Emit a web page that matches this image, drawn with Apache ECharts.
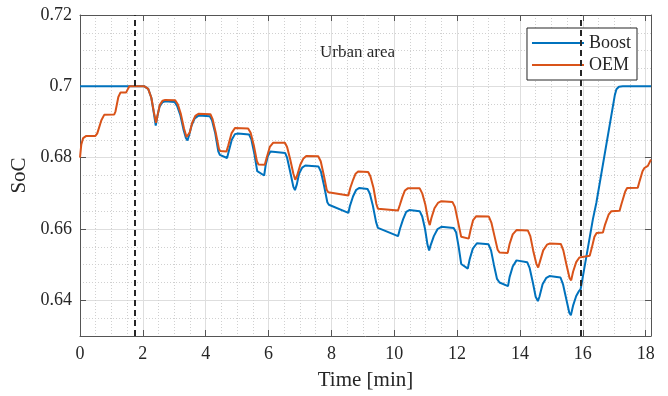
<!DOCTYPE html>
<html>
<head>
<meta charset="utf-8">
<script src="https://cdn.jsdelivr.net/npm/echarts@6/dist/echarts.min.js"></script>
<style>
  html, body { margin: 0; padding: 0; background: #fff; }
  #chart { width: 668px; height: 396px; }
</style>
</head>
<body>
<div id="chart"></div>
<script>
// Boost SoC trace (time in min)
const boostTime = [0, 2.05, 2.17, 2.27, 2.35, 2.41, 2.46, 2.53, 2.62, 2.71, 3.01, 3.09, 3.19, 3.29, 3.37, 3.42, 3.47, 3.55, 3.65, 3.77,
  4.13, 4.20, 4.30, 4.40, 4.45, 4.68, 4.74, 4.83, 4.93, 5.03, 5.38, 5.45, 5.55, 5.64, 5.68, 5.86, 5.91, 5.98, 6.06,
  6.53, 6.59, 6.69, 6.79, 6.84, 6.90, 6.97, 7.07, 7.17, 7.59, 7.67, 7.77, 7.87, 7.92, 8.54, 8.59, 8.69, 8.79, 8.89,
  9.15, 9.22, 9.32, 9.42, 9.48, 10.12, 10.18, 10.28, 10.38, 10.48, 10.81, 10.89, 10.98, 11.06, 11.11, 11.16, 11.26, 11.38, 11.50,
  11.89, 11.97, 12.05, 12.13, 12.34, 12.40, 12.50, 12.63, 13.00, 13.08, 13.17, 13.27, 13.35, 13.62, 13.67, 13.77, 13.89,
  14.23, 14.31, 14.41, 14.50, 14.57, 14.62, 14.72, 14.84, 14.94, 15.29, 15.37, 15.47, 15.57, 15.62, 15.69, 15.79, 15.87, 15.93,
  16.06, 16.32, 16.43, 17.02, 17.07, 17.15, 17.27, 18.17];
const boostSoc = [0.7, 0.7, 0.6993, 0.6968, 0.6925, 0.6890, 0.6915, 0.6943, 0.6955, 0.6958, 0.6956, 0.6945, 0.6920, 0.6880, 0.6855, 0.6848, 0.6862, 0.6890, 0.6910, 0.6918,
  0.6916, 0.6905, 0.6870, 0.6818, 0.6808, 0.6799, 0.6820, 0.6850, 0.6866, 0.6868, 0.6865, 0.6852, 0.6810, 0.6762, 0.6757, 0.6750, 0.6780, 0.6805, 0.6817,
  0.6813, 0.6800, 0.6760, 0.6718, 0.6709, 0.6725, 0.6755, 0.6772, 0.6778, 0.6775, 0.6760, 0.6720, 0.6675, 0.6668, 0.6645, 0.6665, 0.6692, 0.6710, 0.6715,
  0.6712, 0.6700, 0.6665, 0.6620, 0.6603, 0.6580, 0.6600, 0.6627, 0.6648, 0.6653, 0.6650, 0.6635, 0.6600, 0.6555, 0.6540, 0.6555, 0.6580, 0.6600, 0.6606,
  0.6603, 0.6590, 0.6550, 0.6502, 0.6489, 0.6515, 0.6545, 0.6560, 0.6557, 0.6540, 0.6500, 0.6460, 0.6450, 0.6440, 0.6465, 0.6495, 0.6512,
  0.6507, 0.6490, 0.6450, 0.6410, 0.6398, 0.6410, 0.6445, 0.6463, 0.6468, 0.6464, 0.6445, 0.6405, 0.6365, 0.6358, 0.6385, 0.6412, 0.6425, 0.6431,
  0.6496, 0.6627, 0.6673, 0.6976, 0.6992, 0.6999, 0.7, 0.7];

// OEM SoC trace
const oemTime = [0, 0.04, 0.10, 0.20, 0.49, 0.55, 0.68, 0.77, 1.09, 1.13, 1.22, 1.29, 1.47, 1.51, 1.57,
  2.05, 2.17, 2.27, 2.35, 2.42, 2.47, 2.54, 2.63, 2.71, 3.03, 3.11, 3.21, 3.31, 3.39, 3.44, 3.49, 3.57, 3.67, 3.77,
  4.15, 4.22, 4.32, 4.42, 4.46, 4.66, 4.72, 4.82, 4.93, 5.35, 5.43, 5.53, 5.63, 5.68, 5.88, 5.94, 6.04, 6.15,
  6.52, 6.59, 6.69, 6.79, 6.85, 6.91, 7.01, 7.11, 7.20, 7.58, 7.66, 7.76, 7.85, 7.90, 8.54, 8.60, 8.69, 8.77, 8.85,
  9.17, 9.24, 9.34, 9.43, 9.48, 10.12, 10.18, 10.26, 10.34, 10.43, 10.81, 10.89, 10.99, 11.08, 11.13, 11.18, 11.28, 11.39, 11.50,
  11.85, 11.93, 12.03, 12.13, 12.18, 12.37, 12.43, 12.51, 12.61, 13.01, 13.09, 13.19, 13.29, 13.35, 13.61, 13.67, 13.77, 13.89,
  14.25, 14.33, 14.42, 14.52, 14.58, 14.64, 14.74, 14.86, 14.94, 15.30, 15.38, 15.48, 15.58, 15.63, 15.69, 15.79, 15.89, 15.95,
  16.22, 16.28, 16.37, 16.44, 16.64, 16.70, 16.82, 16.91, 17.17, 17.23, 17.35, 17.41, 17.75, 17.81, 17.90, 17.96, 18.07, 18.17];
const oemSoc = [0.68, 0.6836, 0.6855, 0.6861, 0.6861, 0.6868, 0.6905, 0.6920, 0.6921, 0.6930, 0.6970, 0.6983, 0.6983, 0.6990, 0.7,
  0.7, 0.6993, 0.6968, 0.6928, 0.6898, 0.6920, 0.6948, 0.6960, 0.6962, 0.6961, 0.6950, 0.6922, 0.6882, 0.6858, 0.6856, 0.6870, 0.6898, 0.6917, 0.6923,
  0.6922, 0.6908, 0.6870, 0.6825, 0.6819, 0.6817, 0.6835, 0.6868, 0.6883, 0.6882, 0.6870, 0.6835, 0.6790, 0.6781, 0.6780, 0.6800, 0.6830, 0.6842,
  0.6842, 0.6830, 0.6795, 0.6755, 0.6738, 0.6750, 0.6780, 0.6798, 0.6805, 0.6804, 0.6790, 0.6750, 0.6710, 0.6703, 0.6694, 0.6715, 0.6738, 0.6755, 0.6761,
  0.6760, 0.6748, 0.6715, 0.6670, 0.6657, 0.6652, 0.6668, 0.6690, 0.6708, 0.6714, 0.6714, 0.6700, 0.6668, 0.6625, 0.6611, 0.6630, 0.6658, 0.6673, 0.6678,
  0.6676, 0.6662, 0.6620, 0.6578, 0.6573, 0.6573, 0.6598, 0.6625, 0.6636, 0.6635, 0.6618, 0.6580, 0.6542, 0.6534, 0.6533, 0.6558, 0.6585, 0.6597,
  0.6596, 0.6580, 0.6540, 0.6503, 0.6492, 0.6510, 0.6540, 0.6556, 0.6559, 0.6558, 0.6540, 0.6500, 0.6462, 0.6456, 0.6480, 0.6507, 0.6520, 0.6523,
  0.6525, 0.6545, 0.6578, 0.6589, 0.6590, 0.6610, 0.6640, 0.6650, 0.6651, 0.6670, 0.6705, 0.6715, 0.6716, 0.6735, 0.6762, 0.6771, 0.6777, 0.6795];

// vertical markers bounding the urban section
const zoneMarks = [1.74, 15.94];

const seriesNames = ['Boost', 'OEM'];
const seriesColors = ['#0072BD', '#D95319'];

const FONT = 'Liberation Serif, Times New Roman, serif';
const AXIS_COLOR = '#555';
const TEXT_COLOR = '#262626';

function zip(xs, ys) {
  return xs.map((x, i) => [x, ys[i]]);
}

const chart = echarts.init(document.getElementById('chart'));

const gridLine = { show: true, lineStyle: { color: '#dedede', width: 1 } };
const minorLine = { show: true, lineStyle: { color: '#d0d0d0', width: 1, type: [1, 2] } };

const option = {
  backgroundColor: '#fff',
  animation: false,
  grid: { left: 80, right: 17, top: 15, bottom: 59 },
  legend: {
    data: seriesNames,
    orient: 'vertical',
    right: 31,
    top: 28,
    padding: [6, 6, 6, 5],
    icon: 'rect',
    itemWidth: 52,
    itemHeight: 2,
    itemGap: 4,
    backgroundColor: '#fff',
    borderColor: '#262626',
    borderWidth: 1,
    textStyle: { fontFamily: FONT, fontSize: 18, color: TEXT_COLOR, lineHeight: 18 }
  },
  graphic: [{
    type: 'text',
    left: 320,
    top: 44,
    style: { text: 'Urban area', font: '17px ' + FONT, fill: TEXT_COLOR }
  }],
  xAxis: [{
    type: 'value',
    min: 0,
    max: 18.17,
    interval: 2,
    name: 'Time [min]',
    nameLocation: 'middle',
    nameGap: 34,
    nameTextStyle: { fontFamily: FONT, fontSize: 21, color: TEXT_COLOR },
    axisLine: { show: true, onZero: false, lineStyle: { color: AXIS_COLOR } },
    axisTick: { show: true, inside: true, length: 6, lineStyle: { color: AXIS_COLOR } },
    axisLabel: {
      margin: 9, fontFamily: FONT, fontSize: 18, color: TEXT_COLOR,
      formatter: v => (Math.abs(v / 2 - Math.round(v / 2)) < 1e-6 ? String(Math.round(v)) : '')
    },
    splitLine: gridLine,
    minorTick: { show: false, splitNumber: 4 },
    minorSplitLine: minorLine
  }, {
    type: 'value',
    position: 'top',
    min: 0,
    max: 18.17,
    interval: 2,
    axisLine: { show: true, onZero: false, lineStyle: { color: AXIS_COLOR } },
    axisTick: { show: true, inside: true, length: 6, lineStyle: { color: AXIS_COLOR } },
    axisLabel: { show: false },
    splitLine: { show: false }
  }],
  yAxis: [{
    type: 'value',
    min: 0.63,
    max: 0.72,
    splitNumber: 5,
    name: 'SoC',
    nameLocation: 'middle',
    nameGap: 43,
    nameTextStyle: { fontFamily: FONT, fontSize: 21, color: TEXT_COLOR },
    axisLine: { show: true, onZero: false, lineStyle: { color: AXIS_COLOR } },
    axisTick: { show: true, inside: true, length: 6, lineStyle: { color: AXIS_COLOR } },
    axisLabel: {
      margin: 8, fontFamily: FONT, fontSize: 18, color: TEXT_COLOR,
      formatter: v => (Math.abs(v / 0.02 - Math.round(v / 0.02)) < 1e-6 ? String(+v.toFixed(2)) : '')
    },
    splitLine: gridLine,
    minorTick: { show: false, splitNumber: 4 },
    minorSplitLine: minorLine
  }, {
    type: 'value',
    position: 'right',
    min: 0.63,
    max: 0.72,
    splitNumber: 5,
    axisLine: { show: true, onZero: false, lineStyle: { color: AXIS_COLOR } },
    axisTick: { show: true, inside: true, length: 6, lineStyle: { color: AXIS_COLOR } },
    axisLabel: { show: false },
    splitLine: { show: false }
  }],
  series: [
    {
      name: seriesNames[0],
      type: 'line',
      data: zip(boostTime, boostSoc),
      symbol: 'none',
      color: seriesColors[0],
      lineStyle: { width: 2, color: seriesColors[0] },
      z: 3,
      markLine: {
        silent: true,
        symbol: 'none',
        label: { show: false },
        lineStyle: { color: '#262626', width: 2, type: [6, 4] },
        data: zoneMarks.map(x => ({ xAxis: x }))
      }
    },
    {
      name: seriesNames[1],
      type: 'line',
      data: zip(oemTime, oemSoc),
      symbol: 'none',
      color: seriesColors[1],
      lineStyle: { width: 2, color: seriesColors[1] },
      z: 4
    }
  ]
};

chart.setOption(option);
</script>
</body>
</html>
